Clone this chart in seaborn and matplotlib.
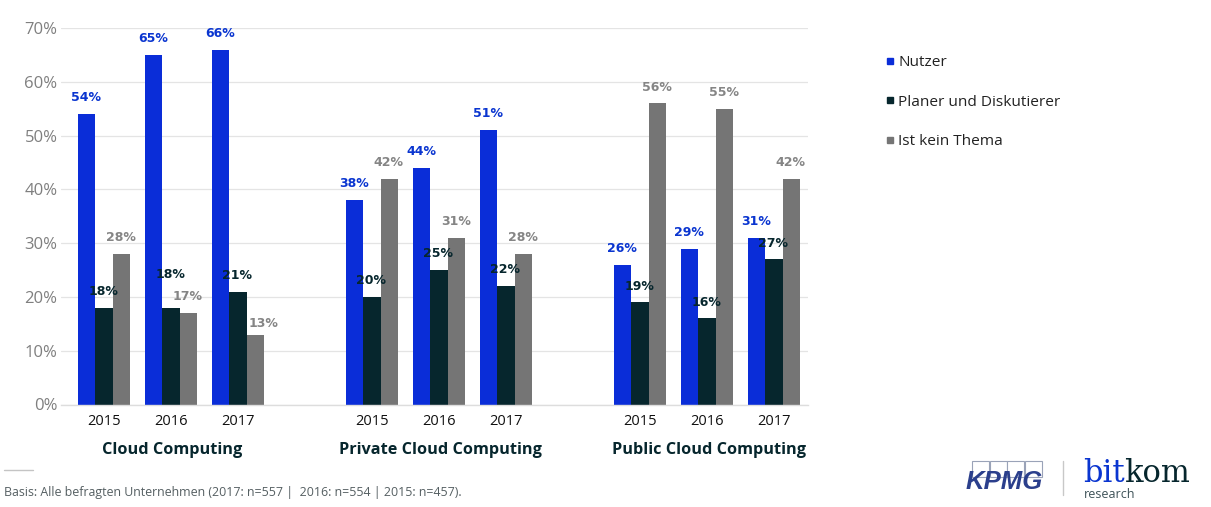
import matplotlib
matplotlib.use("Agg")
import matplotlib.pyplot as plt
from matplotlib.lines import Line2D
from matplotlib.patches import Rectangle
import pandas as pd
import seaborn as sns

groups = ["Cloud Computing", "Private Cloud Computing", "Public Cloud Computing"]
years = ["2015", "2016", "2017"]
series = ["Nutzer", "Planer und Diskutierer", "Ist kein Thema"]
nutzer = [54, 65, 66, 38, 44, 51, 26, 29, 31]
planer = [18, 18, 21, 20, 25, 22, 19, 16, 27]
kein_thema = [28, 17, 13, 42, 31, 28, 56, 55, 42]
colors = ["#0A2DD8", "#06262D", "#757575"]
label_colors = ["#0A35D0", "#06262D", "#858585"]
footnote = "Basis: Alle befragten Unternehmen (2017: n=557 |  2016: n=554 | 2015: n=457)."

sns.set_theme(style="white")
plt.rcParams["font.family"] = ["Open Sans", "DejaVu Sans"]

W, H = 1211, 507
fig = plt.figure(figsize=(W / 100, H / 100), dpi=100)
ax = fig.add_axes([61 / W, 1 - 404.5 / H, (808 - 61) / W, (404.5 - 28) / H])

rows = []
for s, vals in zip(series, [nutzer, planer, kein_thema]):
    for i, v in enumerate(vals):
        slot = (i // 3) * 4 + i % 3
        rows.append({"slot": slot, "Serie": s, "Wert": v})
df = pd.DataFrame(rows)

sns.barplot(data=df, x="slot", y="Wert", hue="Serie", order=list(range(11)),
            hue_order=series, palette=colors, width=0.78, saturation=1,
            gap=0, ax=ax, legend=False, linewidth=0)

ax.set_xlim((61 - 104) / 67, (808 - 104) / 67)
ax.set_ylim(0, 70)

# value labels: (series index, slot) -> nudge in points for the two displaced labels
nudges = {(1, 1): (0, 12), (2, 2): (6, -3.5)}
for si, c in enumerate(ax.containers):
    for slot, b in enumerate(c):
        h = b.get_height()
        if h != h or h == 0:
            continue
        dx, dy = nudges.get((si, slot), (0, 0))
        ax.annotate(f"{h:.0f}%", xy=(b.get_x() + b.get_width() / 2, h),
                    xytext=(dx - 0.4, 7 + dy), textcoords="offset points", ha="center", va="bottom",
                    color=label_colors[si], fontsize=9, fontweight="bold",
                    family="DejaVu Sans", annotation_clip=False, zorder=5)

ax.set_yticks(range(0, 71, 10))
ax.set_yticklabels([f"{v}%" for v in range(0, 71, 10)], fontsize=12, color="#7F7F7F")
ticks = [g * 4 + y for g in range(3) for y in range(3)]
ax.set_xticks(ticks)
ax.set_xticklabels(years * 3, fontsize=10.5, color="#111111")
ax.tick_params(axis="both", length=0)
ax.tick_params(axis="x", pad=7)
ax.tick_params(axis="y", pad=2.5)
ax.yaxis.grid(True, color="#E4E4E4", linewidth=0.9)
ax.set_axisbelow(True)
ax.set_xlabel("")
ax.set_ylabel("")
for side in ["top", "right", "left"]:
    ax.spines[side].set_visible(False)
ax.spines["bottom"].set_color("#DDDDDD")
ax.spines["bottom"].set_linewidth(1)

for name, cx in zip(groups, [172.5, 440, 708.5]):
    fig.text(cx / W, 1 - 450 / H, name, ha="center", va="center", fontsize=11.7,
             fontweight="bold", color="#06262D")

handles = [Line2D([], [], linestyle="none", marker="s", markersize=5, color=c) for c in colors]
fig.legend(handles, series, loc="upper left", bbox_to_anchor=(885 / W, 1 - 55 / H),
           frameon=False, fontsize=11.1, labelspacing=1.6, handlelength=0.6,
           handletextpad=0.25, borderpad=0, borderaxespad=0, labelcolor="#222222")

fig.add_artist(Line2D([4 / W, 33 / W], [1 - 469.5 / H] * 2, color="#C4C4C4", linewidth=1))
fig.text(4 / W, 1 - 492.5 / H, footnote, ha="left", va="center", fontsize=8.9, color="#555F62")

# logos
for x0 in [972, 990, 1007, 1025]:
    fig.add_artist(Rectangle((x0 / W, 1 - 477 / H), 17 / W, 16.5 / H, transform=fig.transFigure,
                             facecolor="white", edgecolor="#9AA3B8", linewidth=0.8))
fig.text(1004.5 / W, 1 - 482 / H, "KPMG", ha="center", va="center", fontsize=18.5, fontweight="bold",
         style="italic", color="#2B3F8C", family="Liberation Sans")
fig.add_artist(Line2D([1063 / W, 1063 / W], [1 - 495 / H, 1 - 461 / H], color="#C8C8C8", linewidth=1))
fig.text(1083 / W, 1 - 473 / H, "bit", ha="left", va="center", fontsize=22,
         color="#0A35D0", family="DejaVu Serif")
fig.text(1124 / W, 1 - 473 / H, "kom", ha="left", va="center", fontsize=22,
         color="#06262D", family="DejaVu Serif")
fig.text(1084 / W, 1 - 495 / H, "research", ha="left", va="center", fontsize=9, color="#3E5258")

fig.savefig("out.png", dpi=100)
